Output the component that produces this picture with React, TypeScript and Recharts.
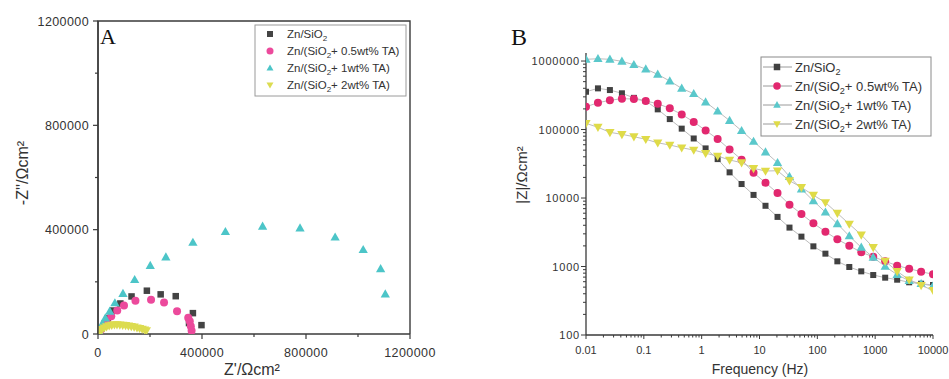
import React from 'react';
import { ScatterChart, Scatter, XAxis, YAxis } from 'recharts';

// ---------- B: Bode plot, |Z| vs frequency ----------
const freqHz = [
  0.01, 0.0161, 0.0259, 0.0418, 0.0673, 0.108, 0.174, 0.281, 0.452, 0.729,
  1.17, 1.89, 3.04, 4.9, 7.89, 12.7, 20.5, 33.0, 53.1, 85.5,
  138, 222, 357, 575, 926, 1490, 2400, 3870, 6230, 10000,
];
const bodeSiO2 = [
  356000, 399000, 377000, 338000, 290000, 261000, 197000, 142000, 103000, 74000,
  53000, 37000, 23700, 16000, 11100, 7700, 5300, 3700, 2730, 1970,
  1540, 1190, 984, 850, 751, 687, 642, 588, 561, 537,
];
const bodeTA05 = [
  215000, 246000, 267000, 282000, 279000, 261000, 238000, 204000, 166000, 129000,
  97000, 72600, 51300, 36300, 23400, 16700, 11800, 8000, 5840, 4270,
  3230, 2490, 2010, 1610, 1390, 1190, 1030, 929, 841, 769,
];
const bodeTA1 = [
  1060000, 1080000, 1060000, 989000, 884000, 764000, 638000, 510000, 399000, 333000,
  252000, 185000, 135000, 96000, 67000, 46800, 32800, 20500, 13500, 9100,
  6200, 4200, 2790, 1900, 1360, 1000, 760, 620, 560, 520,
];
const bodeTA2 = [
  123000, 108000, 91000, 85000, 78500, 72000, 64000, 59400, 54200, 50200,
  45000, 41000, 35900, 32800, 27100, 24800, 25000, 17900, 14300, 11000,
  8600, 6000, 4170, 2900, 1900, 1200, 850, 640, 530, 450,
];

// ---------- A: Nyquist plot, -Z'' vs Z' ----------
const reSiO2 = [6000, 14000, 24000, 38000, 58000, 86000, 129000, 188000, 241000, 299000, 365000, 350000, 398000];
const imSiO2 = [9000, 21000, 38000, 60000, 90000, 117000, 144000, 166000, 152000, 145000, 80000, 42000, 34000];
const reTA05 = [5000, 12000, 21000, 33000, 51000, 74000, 100000, 144000, 204000, 254000, 304000, 347000, 353000, 357000, 360000];
const imTA05 = [7000, 18000, 32000, 50000, 68000, 90000, 109000, 127000, 131000, 121000, 87000, 62000, 49000, 30000, 12000];
const reTA1 = [4000, 9000, 17000, 28000, 45000, 65000, 96000, 141000, 201000, 261000, 365000, 490000, 633000, 777000, 912000, 1020000, 1087000, 1105000];
const imTA1 = [9000, 22000, 40000, 61000, 87000, 119000, 155000, 208000, 262000, 295000, 351000, 392000, 413000, 406000, 371000, 323000, 250000, 153000];
const reTA2 = [3000, 9000, 16000, 24000, 33000, 43000, 53000, 63000, 73000, 84000, 95000, 106000, 117000, 128000, 139000, 150000, 160000, 170000, 179000, 186000];
const imTA2 = [4000, 11000, 18000, 24000, 28000, 32000, 34000, 36000, 36000, 35000, 34000, 33000, 31000, 29000, 27000, 24000, 22000, 19000, 16000, 13000];
const nyqTicks = [0, 200000, 400000, 600000, 800000, 1000000, 1200000];

// legend labels: [before subscript, subscript, after]
const legendLabels: [string, string, string][] = [
  ['Zn/SiO', '2', ''],
  ['Zn/(SiO', '2', '+ 0.5wt% TA)'],
  ['Zn/(SiO', '2', '+ 1wt% TA)'],
  ['Zn/(SiO', '2', '+ 2wt% TA)'],
];

const AX = '#3a3a3a';
const TXT = '#333';
const SANS = '"Liberation Sans", Arial, sans-serif';
const SERIF = '"Liberation Serif", "Times New Roman", serif';

const colorsA = ['#444444', '#ec4a9c', '#4cc5c8', '#dcdc50'];
const colorsB = ['#414141', '#e2286f', '#5ac8cb', '#dfdb48'];
const kinds = ['square', 'circle', 'up', 'down'];

function marker(kind: string, color: string, cx: number, cy: number, s: number) {
  if (kind === 'square') return <rect x={cx - s / 2} y={cy - s / 2} width={s} height={s} fill={color} />;
  if (kind === 'circle') return <circle cx={cx} cy={cy} r={s / 2 + 0.5} fill={color} />;
  if (kind === 'up')
    return <path d={`M${cx},${cy - s * 0.6} L${cx + s * 0.58},${cy + s * 0.42} L${cx - s * 0.58},${cy + s * 0.42}Z`} fill={color} />;
  return <path d={`M${cx},${cy + s * 0.6} L${cx + s * 0.58},${cy - s * 0.42} L${cx - s * 0.58},${cy - s * 0.42}Z`} fill={color} />;
}

const shapeOf = (kind: string, color: string, s: number) => (p: any) => {
  if (p.cx == null || p.cy == null) return <g />;
  return marker(kind, color, p.cx, p.cy, s);
};

const zip = (xs: number[], ys: number[]) => xs.map((x, i) => ({ x, y: ys[i] }));

const isDecade = (v: number) => Math.abs(Math.log10(v) - Math.round(Math.log10(v))) < 1e-6;

function logMinor(lo: number, hi: number) {
  const out: number[] = [];
  for (let d = lo; d < hi; d *= 10) {
    for (let k = 1; k < 10; k++) out.push(+(d * k).toPrecision(3));
  }
  out.push(hi);
  return out;
}

// ---------- custom tick renderers ----------
const NyqXTick = (p: any) => {
  const v = p.payload.value;
  const major = v % 400000 === 0;
  return (
    <g>
      <line x1={p.x} y1={p.y} x2={p.x} y2={p.y + (major ? 5 : 3)} stroke={AX} strokeWidth={1.2} />
      {major && (
        <text x={p.x} y={p.y + 23} textAnchor="middle" fontSize={12.5} fill={TXT} fontFamily={SANS} letterSpacing={0.4}>
          {v}
        </text>
      )}
    </g>
  );
};

const NyqYTick = (p: any) => {
  const v = p.payload.value;
  const major = v % 400000 === 0;
  return (
    <g>
      <line x1={p.x} y1={p.y} x2={p.x - (major ? 5 : 3)} y2={p.y} stroke={AX} strokeWidth={1.2} />
      {major && (
        <text x={p.x - 9} y={p.y + 4.5} textAnchor="end" fontSize={12.5} fill={TXT} fontFamily={SANS} letterSpacing={0.4}>
          {v}
        </text>
      )}
    </g>
  );
};

const BodeXTick = (p: any) => {
  const v = p.payload.value;
  const major = isDecade(v);
  return (
    <g>
      <line x1={p.x} y1={p.y} x2={p.x} y2={p.y + (major ? 4 : 2.5)} stroke={AX} strokeWidth={1} />
      {major && (
        <text x={p.x} y={p.y + 19} textAnchor="middle" fontSize={11} fill={TXT} fontFamily={SANS}>
          {String(v)}
        </text>
      )}
    </g>
  );
};

const BodeYTick = (p: any) => {
  const v = p.payload.value;
  const major = isDecade(v);
  return (
    <g>
      <line x1={p.x} y1={p.y} x2={p.x - (major ? 5 : 3)} y2={p.y} stroke={AX} strokeWidth={1} />
      {major && (
        <text x={p.x - 6} y={p.y + 4} textAnchor="end" fontSize={11} fill={TXT} fontFamily={SANS} letterSpacing={0.8}>
          {String(v)}
        </text>
      )}
    </g>
  );
};

// ---------- charts ----------
function NyquistChart() {
  const sets = [zip(reSiO2, imSiO2), zip(reTA05, imTA05), zip(reTA1, imTA1), zip(reTA2, imTA2)];
  const sizes = [6.5, 7, 8, 8];
  return (
    <ScatterChart width={470} height={379} margin={{ top: 21, right: 60, bottom: 15, left: 0 }}>
      <XAxis
        type="number" dataKey="x" domain={[0, 1200000]} ticks={nyqTicks} interval={0}
        tickSize={0} tickMargin={0} tickLine={false} tick={NyqXTick} height={30}
        axisLine={{ stroke: AX, strokeWidth: 1.4 }} allowDataOverflow
      />
      <YAxis
        type="number" dataKey="y" domain={[0, 1200000]} ticks={nyqTicks} interval={0}
        tickSize={0} tickMargin={0} tickLine={false} tick={NyqYTick} width={98}
        axisLine={{ stroke: AX, strokeWidth: 1.4 }} allowDataOverflow
      />
      {sets.map((d, i) => (
        <Scatter key={i} data={d} fill={colorsA[i]} isAnimationActive={false}
          shape={shapeOf(kinds[i], colorsA[i], sizes[i])} />
      ))}
    </ScatterChart>
  );
}

function BodeChart() {
  const sets = [bodeSiO2, bodeTA05, bodeTA1, bodeTA2].map((ys) => zip(freqHz, ys));
  const sizes = [6, 7, 8, 8];
  return (
    <ScatterChart width={479} height={379} margin={{ top: 53, right: 16, bottom: 14, left: 0 }}>
      <XAxis
        type="number" dataKey="x" scale="log" domain={[0.01, 10000]} ticks={logMinor(0.01, 10000)} interval={0}
        tickSize={0} tickMargin={0} tickLine={false} tick={BodeXTick} height={30}
        axisLine={{ stroke: AX, strokeWidth: 1.3 }} allowDataOverflow
      />
      <YAxis
        type="number" dataKey="y" scale="log" domain={[100, 1310000]} ticks={logMinor(100, 1000000)} interval={0}
        tickSize={0} tickMargin={0} tickLine={false} tick={BodeYTick} width={116}
        axisLine={{ stroke: AX, strokeWidth: 1.3 }} allowDataOverflow
      />
      {sets.map((d, i) => (
        <Scatter key={i} data={d} fill={colorsB[i]} isAnimationActive={false}
          line={{ stroke: '#bdbdbd', strokeWidth: 1 }}
          shape={shapeOf(kinds[i], colorsB[i], sizes[i])} />
      ))}
    </ScatterChart>
  );
}

function LegendRow({ x, y, i, fs, colors, withLine, size }: any) {
  const [a, sub, b] = legendLabels[i];
  return (
    <g>
      {withLine && <line x1={x - 14} x2={x + 15} y1={y} y2={y} stroke="#9a9a9a" strokeWidth={1} />}
      {marker(kinds[i], colors[i], x, y, size)}
      <text x={x + (withLine ? 18 : 17)} y={y + fs * 0.36} fontSize={fs} fill={TXT} fontFamily={SANS}>
        {a}
        <tspan fontSize={fs * 0.7} dy={fs * 0.25}>{sub}</tspan>
        <tspan dy={-fs * 0.25}>{b}</tspan>
      </text>
    </g>
  );
}

function Overlay() {
  return (
    <svg width={949} height={379} style={{ position: 'absolute', left: 0, top: 0, pointerEvents: 'none' }}>
      {/* frame of panel A (top and right edges) */}
      <path d="M98,334 L98,21 L410,21 L410,334" fill="none" stroke={AX} strokeWidth={1.4} />

      {/* panel letters */}
      <text x={100} y={43.5} fontSize={22} fontFamily={SERIF} fill="#111">A</text>
      <text x={511} y={44.5} fontSize={24} fontFamily={SERIF} fill="#111">B</text>

      {/* axis titles */}
      <text x={28} y={173} transform="rotate(-90 28 173)" textAnchor="middle" fontSize={16} fontFamily={SANS} fill={TXT}>
        -Z''/Ωcm²
      </text>
      <text x={252} y={375} textAnchor="middle" fontSize={16} fontFamily={SANS} fill={TXT}>Z'/Ωcm²</text>
      <text x={527} y={175} transform="rotate(-90 527 175)" textAnchor="middle" fontSize={15} fontFamily={SANS} fill={TXT}>
        |Z|/Ωcm²
      </text>
      <text x={760} y={374} textAnchor="middle" fontSize={14} fontFamily={SANS} fill={TXT}>Frequency (Hz)</text>

      {/* legend A */}
      <rect x={255} y={25} width={151} height={71} fill="#fff" stroke="#9a9a9a" strokeWidth={1} />
      {[0, 1, 2, 3].map((i) => (
        <LegendRow key={i} x={270} y={34 + i * 17} i={i} fs={11.5} colors={colorsA} withLine={false} size={6} />
      ))}

      {/* legend B */}
      <rect x={761} y={57} width={170} height={79} fill="#fff" stroke="#8a8a8a" strokeWidth={1} />
      {[0, 1, 2, 3].map((i) => (
        <LegendRow key={i} x={777} y={67 + i * 19} i={i} fs={13} colors={colorsB} withLine size={6.5} />
      ))}
    </svg>
  );
}

export default function App() {
  return (
    <div style={{ position: 'absolute', left: 0, top: 0, width: 949, height: 379, background: '#fff' }}>
      <div style={{ position: 'absolute', left: 0, top: 0 }}>
        <NyquistChart />
      </div>
      <div style={{ position: 'absolute', left: 470, top: 0 }}>
        <BodeChart />
      </div>
      <Overlay />
    </div>
  );
}
